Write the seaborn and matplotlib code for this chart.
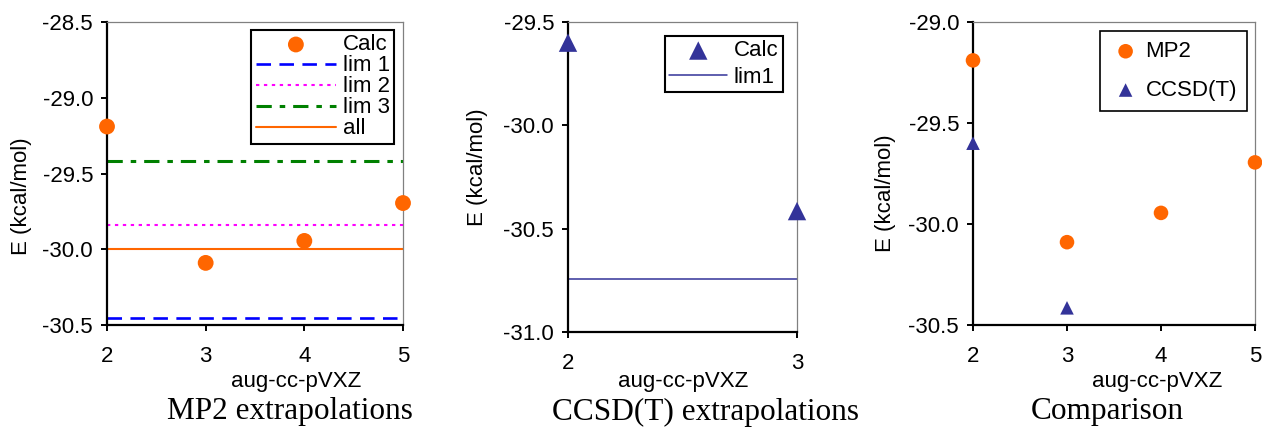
import numpy as np
import pandas as pd
import matplotlib
matplotlib.use("Agg")
import matplotlib.pyplot as plt
import seaborn as sns

# ---------------- data ----------------
basis_mp2 = [2, 3, 4, 5]
e_mp2 = [-29.19, -30.09, -29.945, -29.695]
basis_cc = [2, 3]
e_cc = [-29.60, -30.415]
mp2_lim_labels = ["lim 1", "lim 2", "lim 3", "all"]
mp2_lim_values = [-30.455, -29.84, -29.42, -30.0]
cc_lim_label = "lim1"
cc_lim_value = -30.745
titles = ["MP2 extrapolations", "CCSD(T) extrapolations", "Comparison"]
xlabel = "aug-cc-pVXZ"
ylabel = "E (kcal/mol)"

# ---------------- style ----------------
sns.set_theme(style="white")
plt.rcParams["font.family"] = ["Liberation Sans", "DejaVu Sans"]
plt.rcParams["lines.scale_dashes"] = True
for k in ["text.color", "axes.labelcolor", "xtick.color", "ytick.color"]:
    plt.rcParams[k] = "black"

W, H = 1262, 430
fig = plt.figure(figsize=(W / 100, H / 100), dpi=100)

ORANGE = "#FF6600"
NAVY = "#333399"
FS = 16


def px(x, y):
    return x / W, 1 - y / H


def axes_at(l, t, r, b):
    return fig.add_axes([l / W, 1 - b / H, (r - l) / W, (b - t) / H])


def style_axes(ax, yticks, ylim, xticks):
    ax.set_xlim(xticks[0], xticks[-1])
    ax.set_ylim(*ylim)
    ax.set_yticks(yticks)
    ax.set_yticklabels([f"{v:.1f}" for v in yticks])
    ax.set_xticks(xticks)
    ax.set_xticklabels([str(v) for v in xticks])
    for s in ["left", "bottom"]:
        ax.spines[s].set_color("black")
        ax.spines[s].set_linewidth(1.6)
    for s in ["top", "right"]:
        ax.spines[s].set_color("#808080")
        ax.spines[s].set_linewidth(0.9)
    ax.tick_params(axis="y", direction="out", length=4, width=1.4, color="black",
                   pad=6, labelsize=FS, left=True, labelcolor="black")
    ax.tick_params(axis="x", direction="out", length=4, width=1.4, color="black",
                   pad=11, labelsize=FS, bottom=True, labelcolor="black")
    ax.set_xlabel("")
    ax.set_ylabel("")
    ax.grid(False)


def style_legend(leg, lw=1.5):
    leg.get_frame().set_linewidth(lw)
    for t in leg.get_texts():
        t.set_color("black")


# ---------------- panel 1 ----------------
ax1 = axes_at(107, 22, 403, 325)
df1 = pd.DataFrame({"x": basis_mp2, "E": e_mp2})
line_styles = [
    dict(color="#0000FF", lw=1.9, dashes=(5.5, 3.2)),
    dict(color="#FF00FF", lw=1.5, dashes=(1.6, 2.2)),
    dict(color="#008000", lw=2.2, dashes=(5.0, 2.6, 1.8, 2.6)),
    dict(color=ORANGE, lw=1.5, ls="-"),
]
sns.scatterplot(data=df1, x="x", y="E", ax=ax1, color=ORANGE, s=130,
                edgecolor="none", label="Calc", clip_on=False, zorder=5)
for lab, val, st in zip(mp2_lim_labels, mp2_lim_values, line_styles):
    ax1.axhline(val, label=lab, **st)
style_axes(ax1, [-30.5, -30.0, -29.5, -29.0, -28.5], (-30.5, -28.5), [2, 3, 4, 5])
leg1 = ax1.legend(loc="upper right", bbox_to_anchor=(0.97, 0.974), borderaxespad=0,
                  fontsize=FS, handlelength=3.6, handletextpad=0.3, labelspacing=0.0,
                  borderpad=0.2, fancybox=False, framealpha=1, edgecolor="black",
                  scatterpoints=1)
style_legend(leg1)

# ---------------- panel 2 ----------------
ax2 = axes_at(568, 22, 797, 332)
df2 = pd.DataFrame({"x": basis_cc, "E": e_cc})
sns.scatterplot(data=df2, x="x", y="E", ax=ax2, color=NAVY, marker="^", s=175,
                edgecolor="none", label="Calc", clip_on=False, zorder=5)
ax2.axhline(cc_lim_value, color=NAVY, lw=1.1, label=cc_lim_label)
style_axes(ax2, [-31.0, -30.5, -30.0, -29.5], (-31.0, -29.5), [2, 3])
leg2 = ax2.legend(loc="upper right", bbox_to_anchor=(0.939, 0.955), borderaxespad=0,
                  fontsize=FS, handlelength=2.6, handletextpad=0.3, labelspacing=0.25,
                  borderpad=0.2, fancybox=False, framealpha=1, edgecolor="black",
                  scatterpoints=1)
style_legend(leg2)

# ---------------- panel 3 ----------------
ax3 = axes_at(973, 22, 1255, 325)
sns.scatterplot(data=df1, x="x", y="E", ax=ax3, color=ORANGE, s=110,
                edgecolor="none", label="MP2", clip_on=False, zorder=5)
sns.scatterplot(data=df2, x="x", y="E", ax=ax3, color=NAVY, marker="^", s=95,
                edgecolor="none", label="CCSD(T)", clip_on=False, zorder=5)
style_axes(ax3, [-30.5, -30.0, -29.5, -29.0], (-30.5, -29.0), [2, 3, 4, 5])
leg3 = ax3.legend(loc="upper right", bbox_to_anchor=(0.972, 0.970), borderaxespad=0,
                  fontsize=FS, handlelength=1.4, handletextpad=0.2, labelspacing=0.8,
                  borderpad=0.45, fancybox=False, framealpha=1, edgecolor="black",
                  scatterpoints=1)
style_legend(leg3, 1.2)

# ---------------- labels ----------------
for (x, y) in [(296, 382), (683, 382), (1157, 382)]:
    fig.text(*px(x, y), xlabel, ha="center", va="center", fontsize=FS)
for (x, y) in [(22, 196), (478, 167), (886, 193)]:
    fig.text(*px(x, y), ylabel, ha="center", va="center", rotation=90, fontsize=FS)
for (x, y), t in zip([(290, 412), (705, 412), (1107, 412)], titles):
    fig.text(*px(x, y), t, ha="center", va="center", fontsize=22.5,
             family=["Liberation Serif", "DejaVu Serif"])

fig.savefig("out.png", dpi=100)
